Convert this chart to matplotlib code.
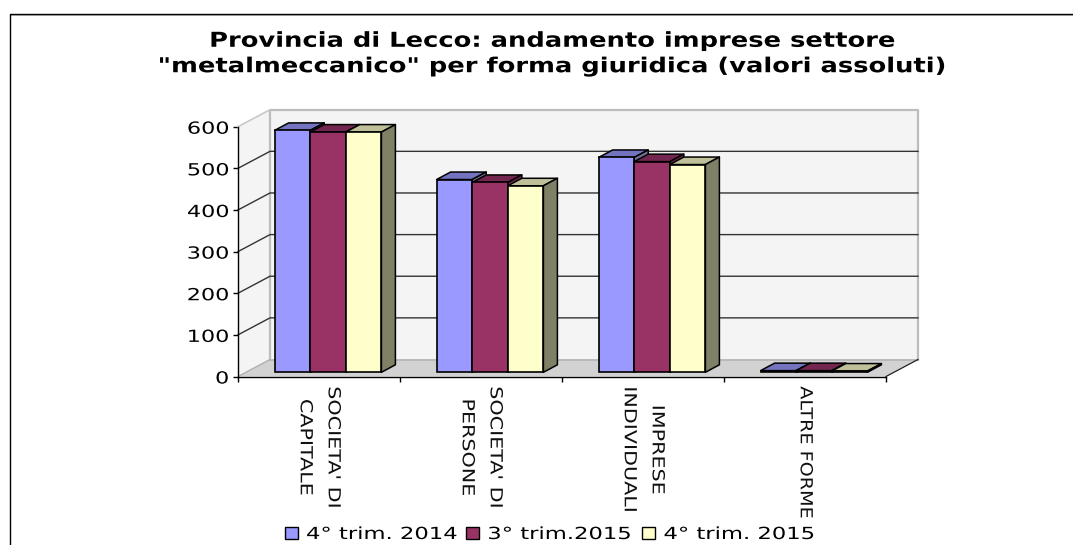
import matplotlib
matplotlib.use("Agg")
import matplotlib.pyplot as plt
from matplotlib.lines import Line2D
from matplotlib.patches import Polygon, Patch
from matplotlib.patheffects import AbstractPathEffect
from matplotlib.transforms import Affine2D

categories = ["SOCIETA' DI\nCAPITALE", "SOCIETA' DI\nPERSONE", "IMPRESE\nINDIVIDUALI", "ALTRE FORME"]
series_names = ["4° trim. 2014", "3° trim.2015", "4° trim. 2015"]
v_2014_q4 = [581, 463, 516, 4]
v_2015_q3 = [577, 456, 506, 4]
v_2015_q4 = [577, 448, 499, 3]
y_ticks = [0, 100, 200, 300, 400, 500, 600]
front_colors = ["#9999FF", "#993366", "#FFFFCC"]
top_colors = ["#7373BF", "#732650", "#BFBF99"]
side_colors = ["#737399", "#73264D", "#808066"]
series = [v_2014_q4, v_2015_q3, v_2015_q4]
label_stretch = [1.24, 1.24, 1.24, 1.15]

W, H = 1073, 545


class Stretch(AbstractPathEffect):
    """Widen real text along one axis about a fixed pixel, or about its own origin."""

    def __init__(self, sx=1.0, sy=1.0, cx=None, cy=None):
        super().__init__()
        self.sx, self.sy, self.cx, self.cy = sx, sy, cx, cy

    def draw_path(self, renderer, gc, tpath, affine, rgbFace=None):
        m = affine.get_matrix()
        cx = m[0, 2] if self.cx is None else self.cx
        cy = m[1, 2] if self.cy is None else self.cy
        st = Affine2D().translate(-cx, -cy).scale(self.sx, self.sy).translate(cx, cy)
        renderer.draw_path(gc, tpath, affine + st, rgbFace)


fig = plt.figure(figsize=(W / 100, H / 100), dpi=100, facecolor="white")
plt.rcParams["font.family"] = "DejaVu Sans"
L, R, T, B = 238, 886, 126.7, 376.5
ax = fig.add_axes([L / W, 1 - B / H, (R - L) / W, (B - T) / H])
ax.set_xlim(0, 4)
ax.set_ylim(0, 600)
ax.patch.set_alpha(0)

px = 4 / (R - L)          # category units per pixel
py = 600 / (B - T)        # value units per pixel
DX, DY = 32 * px, 17 * py  # chart depth


def poly(pts, fc, ec="none", lw=0.0, z=1):
    ax.add_patch(Polygon(pts, closed=True, facecolor=fc, edgecolor=ec, linewidth=lw,
                         zorder=z, clip_on=False, joinstyle="round"))


# walls and floor
poly([(DX, DY), (4 + DX, DY), (4 + DX, 600 + DY), (DX, 600 + DY)], "#F4F4F4", z=1)
poly([(0, 0), (DX, DY), (DX, 600 + DY), (0, 600)], "#F4F4F4", z=1)
poly([(0, 0), (4, 0), (4 + DX, DY), (DX, DY)], "#D2D2D2", z=1)
ax.plot([DX, DX, 4 + DX, 4 + DX], [DY, 600 + DY, 600 + DY, DY], color="#BDBDBD", lw=1.6, zorder=2, clip_on=False)
ax.plot([0, DX], [600, 600 + DY], color="#C8C8C8", lw=1.2, zorder=2, clip_on=False)
ax.plot([DX, 4 + DX], [DY, DY], color="#B4B4B4", lw=1.2, zorder=2, clip_on=False)
ax.plot([0, DX], [0, DY], color="#B0B0B0", lw=1.0, zorder=2, clip_on=False)
ax.plot([4, 4 + DX], [0, DY], color="#222222", lw=0.9, zorder=2, clip_on=False)

# gridlines
for t in y_ticks[1:-1]:
    ax.plot([0, DX, 4 + DX], [t, t + DY, t + DY], color="#333333", lw=1.0, zorder=2, clip_on=False)

# bars
bar_w = 35.6 * px
gap0 = 36.6 * px
lift = 4.2 * py
dx, dy = 14 * px, 7.5 * py
for c in range(len(categories)):
    for s, vals in enumerate(series):
        x0 = c + gap0 + s * bar_w
        x1 = x0 + bar_w
        v = vals[c]
        y0, y1 = lift, lift + v
        poly([(x0, y1), (x1, y1), (x1 + dx, y1 + dy), (x0 + dx, y1 + dy)], top_colors[s], "black", 1.1, 3 + s)
        poly([(x1, y0), (x1 + dx, y0 + dy), (x1 + dx, y1 + dy), (x1, y1)], side_colors[s], "black", 1.1, 3 + s)
        ax.bar(x0, v, width=bar_w, bottom=lift, align="edge", color=front_colors[s],
               edgecolor="black", linewidth=1.2, zorder=3 + s, clip_on=False)

# axes
for sp in ("top", "right"):
    ax.spines[sp].set_visible(False)
for sp in ("left", "bottom"):
    ax.spines[sp].set_linewidth(1.0)
    ax.spines[sp].set_zorder(10)
ax.set_yticks(y_ticks)
ax.tick_params(axis="y", length=3.6, width=1.0, labelsize=12, pad=3)
ax.set_xticks(range(5))
ax.set_xticklabels([])
ax.tick_params(axis="x", length=3.6, width=1.0)
for lab in ax.get_yticklabels():
    lab.set_path_effects([Stretch(sx=1.34, cx=L - 10)])

for c, lab in enumerate(categories):
    ax.annotate(lab, xy=(c + 0.5, 0), xycoords="data", xytext=(0.5, -7.0), textcoords="offset points",
                rotation=270, ha="center", va="top", fontsize=12, linespacing=1.71,
                multialignment="center", color="#111111",
                path_effects=[Stretch(sy=label_stretch[c], cy=H - 386)])

# title
fig.text(552 / W, 1 - 53.5 / H,
         'Provincia di Lecco: andamento imprese settore\n"metalmeccanico" per forma giuridica (valori assoluti)',
         ha="center", va="center", fontsize=14.8, fontweight="bold", linespacing=1.34, color="black",
         path_effects=[Stretch(sx=1.254, cx=552)])

# frame (open on the right, runs off the bottom of the picture)
fig.add_artist(Line2D([1, 9.5 / W, 9.5 / W], [1 - 13.5 / H, 1 - 13.5 / H, 0], transform=fig.transFigure,
                      color="black", linewidth=1.0, zorder=20))
fig.add_artist(Line2D([10 / W, 1], [1 - 14.8 / H, 1 - 14.8 / H], transform=fig.transFigure,
                      color="#BBBBBB", linewidth=0.7, zorder=19))

# legend
handles = [Patch(facecolor=col, edgecolor="black", linewidth=1.0, label=n)
           for col, n in zip(front_colors, series_names)]
leg = fig.legend(handles=handles, loc="center left", bbox_to_anchor=(285 / W, 1 - 534 / H), ncol=3, frameon=False,
                 fontsize=12, handlelength=0.78, handleheight=0.78, handletextpad=0.48,
                 columnspacing=2.95, borderpad=0, borderaxespad=0)
for t in leg.get_texts():
    t.set_path_effects([Stretch(sx=1.36)])

fig.savefig("out.png", dpi=100)
